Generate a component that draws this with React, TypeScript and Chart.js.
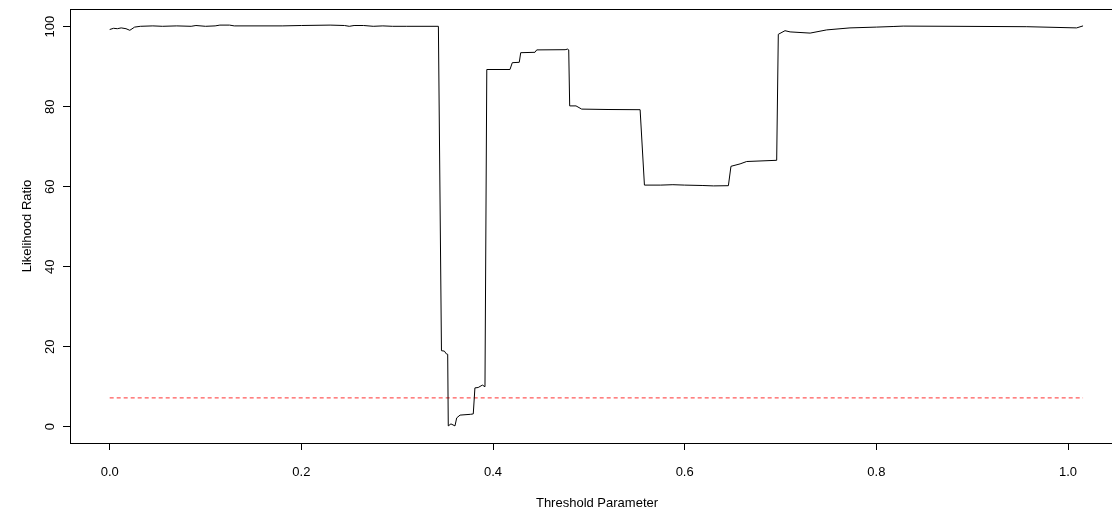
import React, { useEffect, useRef } from "react";
import { Chart, registerables } from "chart.js";

Chart.register(...registerables);

// ---- data ----
const thresholds: number[] = [
  0.0, 0.004, 0.008, 0.012, 0.017, 0.021, 0.026, 0.032, 0.045, 0.055, 0.07, 0.085,
  0.09, 0.1, 0.11, 0.115, 0.125, 0.13, 0.18, 0.2, 0.23, 0.245, 0.25, 0.255, 0.265,
  0.275, 0.285, 0.295, 0.31, 0.343, 0.3462, 0.3492, 0.3513, 0.3527, 0.3533, 0.3561,
  0.3603, 0.3621, 0.3656, 0.3767, 0.3794, 0.3811, 0.3845, 0.3889, 0.3916, 0.3935,
  0.4177, 0.4201, 0.4274, 0.4289, 0.4438, 0.4456, 0.4752, 0.478, 0.479, 0.48, 0.4866,
  0.4925, 0.52, 0.5535, 0.558, 0.575, 0.5877, 0.6, 0.619, 0.63, 0.6456, 0.6483,
  0.6578, 0.6647, 0.696, 0.6977, 0.7047, 0.71, 0.7309, 0.7482, 0.7725, 0.8, 0.8175,
  0.828, 0.88, 0.957, 1.009, 1.0157,
];
const likelihoodRatios: number[] = [
  99.3, 99.6, 99.5, 99.7, 99.5, 99.1, 99.9, 100.1, 100.2, 100.1, 100.2, 100.1,
  100.3, 100.1, 100.2, 100.4, 100.4, 100.2, 100.2, 100.3, 100.4, 100.3, 100.1, 100.3, 100.3,
  100.1, 100.2, 100.1, 100.1, 100.1, 19.0, 18.9, 18.2, 18.1, 0.2, 0.7,
  0.2, 2.2, 2.9, 3.1, 3.2, 9.7, 9.8, 10.4, 10.0, 89.3,
  89.3, 91.0, 91.1, 93.5, 93.6, 94.2, 94.25, 94.4, 94.2, 80.2, 80.2,
  79.4, 79.3, 79.25, 60.4, 60.4, 60.5, 60.4, 60.3, 60.2, 60.25, 65.1,
  65.7, 66.3, 66.6, 98.1, 99.0, 98.7, 98.4, 99.2, 99.7, 99.9, 100.05,
  100.15, 100.1, 100.0, 99.7, 100.2,
];
const cutoffValue = 7.2;
const cutoffRange: number[] = [0.0, 1.0157];

const xTickValues: number[] = [0.0, 0.2, 0.4, 0.6, 0.8, 1.0];
const xTickLabels: string[] = ["0.0", "0.2", "0.4", "0.6", "0.8", "1.0"];
const yTickValues: number[] = [0, 20, 40, 60, 80, 100];
const yTickLabels: string[] = ["0", "20", "40", "60", "80", "100"];

const xTitle = "Threshold Parameter";
const yTitle = "Likelihood Ratio";

const FONT_FAMILY = '"Liberation Sans", Arial, Helvetica, sans-serif';
const FONT_SIZE = 13;

const boxAndYLabels = {
  id: "boxAndYLabels",
  afterDraw(chart: any) {
    const { ctx, chartArea, scales } = chart;
    ctx.save();
    ctx.strokeStyle = "#000";
    ctx.lineWidth = 1;
    ctx.strokeRect(
      chartArea.left + 0.5,
      chartArea.top + 0.5,
      chartArea.right - chartArea.left,
      chartArea.bottom - chartArea.top
    );
    ctx.fillStyle = "#000";
    ctx.font = `${FONT_SIZE}px ${FONT_FAMILY}`;
    ctx.textAlign = "center";
    ctx.textBaseline = "middle";
    yTickValues.forEach((v, i) => {
      const py = scales.y.getPixelForValue(v);
      ctx.save();
      ctx.translate(50, py);
      ctx.rotate(-Math.PI / 2);
      ctx.fillText(yTickLabels[i], 0, 0);
      ctx.restore();
    });
    ctx.restore();
  },
};

export default function App() {
  const canvasRef = useRef<HTMLCanvasElement | null>(null);

  useEffect(() => {
    const canvas = canvasRef.current;
    if (!canvas) return;
    const mainData = thresholds.map((x, i) => ({ x, y: likelihoodRatios[i] }));
    const cutoffData = cutoffRange.map((x) => ({ x, y: cutoffValue }));

    const chart = new Chart(canvas, {
      type: "scatter",
      data: {
        datasets: [
          {
            data: mainData,
            showLine: true,
            borderColor: "#000",
            borderWidth: 1,
            pointRadius: 0,
            tension: 0,
            fill: false,
          },
          {
            data: cutoffData,
            showLine: true,
            borderColor: "#ff3030",
            borderWidth: 1,
            borderDash: [4, 3],
            pointRadius: 0,
            tension: 0,
            fill: false,
          },
        ],
      },
      options: {
        animation: false,
        responsive: false,
        devicePixelRatio: 1,
        layout: { padding: { top: 9, right: 6, left: 0, bottom: 0 } },
        plugins: {
          legend: { display: false },
          tooltip: { enabled: false },
        },
        scales: {
          x: {
            type: "linear",
            min: (70 - 109.7) / 958.3,
            max: (1124 - 109.7) / 958.3,
            afterBuildTicks: (scale: any) => {
              scale.ticks = xTickValues.map((v) => ({ value: v }));
            },
            afterFit: (scale: any) => {
              scale.height = 68;
            },
            border: { display: false },
            grid: {
              drawOnChartArea: false,
              drawTicks: true,
              tickLength: 7,
              color: "#000",
              lineWidth: 1,
            },
            ticks: {
              autoSkip: false,
              maxRotation: 0,
              minRotation: 0,
              padding: 15,
              color: "#000",
              font: { family: FONT_FAMILY, size: FONT_SIZE, lineHeight: 1.2 },
              callback: (value: any) => {
                const i = xTickValues.findIndex((v) => Math.abs(v - Number(value)) < 1e-9);
                return i >= 0 ? xTickLabels[i] : "";
              },
            },
            title: {
              display: true,
              text: xTitle,
              color: "#000",
              font: { family: FONT_FAMILY, size: FONT_SIZE, lineHeight: 1.2 },
              padding: { top: 0, bottom: 0 },
            },
          },
          y: {
            type: "linear",
            min: -(443 - 426.7) / 4,
            max: (426.7 - 9) / 4,
            afterBuildTicks: (scale: any) => {
              scale.ticks = yTickValues.map((v) => ({ value: v }));
            },
            afterFit: (scale: any) => {
              scale.width = 70;
            },
            border: { display: false },
            grid: {
              drawOnChartArea: false,
              drawTicks: true,
              tickLength: 7,
              color: "#000",
              lineWidth: 1,
            },
            ticks: { display: false },
            title: {
              display: true,
              text: yTitle,
              color: "#000",
              font: { family: FONT_FAMILY, size: FONT_SIZE, lineHeight: 1.2 },
              padding: { top: 19.5, bottom: 0 },
            },
          },
        },
      },
      plugins: [boxAndYLabels],
    });
    return () => chart.destroy();
  }, []);

  return (
    <div
      style={{
        position: "fixed",
        left: 0,
        top: 0,
        width: 1112,
        height: 511,
        overflow: "hidden",
        background: "#fff",
      }}
    >
      <canvas ref={canvasRef} width={1130} height={511} style={{ display: "block" }} />
    </div>
  );
}
